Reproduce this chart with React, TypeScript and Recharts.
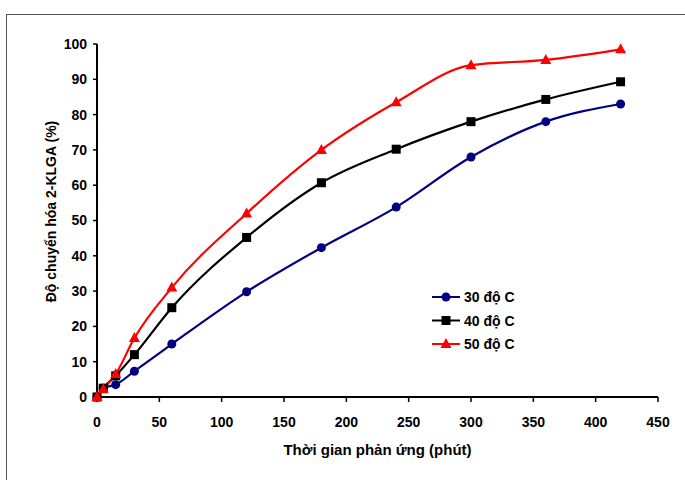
import React from 'react';
import { LineChart, Line, XAxis, YAxis } from 'recharts';

const minutes = [0, 5, 15, 30, 60, 120, 180, 240, 300, 360, 420];
const series30 = [0, 2.5, 3.5, 7.3, 15, 29.8, 42.3, 53.8, 68, 78, 83];
const series40 = [0, 2.5, 6, 12, 25.3, 45.2, 60.7, 70.2, 78, 84.3, 89.3];
const series50 = [0, 2.2, 6.5, 16.7, 31, 52, 70, 83.5, 94, 95.5, 98.5];
const xTicks = [0, 50, 100, 150, 200, 250, 300, 350, 400, 450];
const yTicks = [0, 10, 20, 30, 40, 50, 60, 70, 80, 90, 100];

const data = minutes.map((m, i) => ({
  t: m,
  c30: series30[i],
  c40: series40[i],
  c50: series50[i],
}));

const FONT = '"Liberation Sans", Arial, sans-serif';

const legendItems = [
  { label: '30 độ C', color: '#000080', shape: 'circle' },
  { label: '40 độ C', color: '#000000', shape: 'square' },
  { label: '50 độ C', color: '#ff0000', shape: 'triangle' },
];

function Marker({ shape, cx, cy, color }: { shape: string; cx: number; cy: number; color: string }) {
  if (shape === 'circle') return <circle cx={cx} cy={cy} r={4.5} fill={color} />;
  if (shape === 'square') return <rect x={cx - 4.5} y={cy - 4.5} width={9} height={9} fill={color} />;
  return <polygon points={`${cx},${cy - 6} ${cx + 5.5},${cy + 4} ${cx - 5.5},${cy + 4}`} fill={color} />;
}

const makeDot = (shape: string, color: string) => (props: any) => {
  const { cx, cy, index } = props;
  if (cx == null || cy == null) return <g key={index} />;
  return <Marker key={index} shape={shape} cx={cx} cy={cy} color={color} />;
};

// y title sits a bit above the plot's middle, as in the original
const YTitle = (props: any) => {
  const vb = props.viewBox || { x: 57, y: 44, width: 40, height: 353 };
  const x = vb.x - 6;
  const y = vb.y + vb.height / 2 - 9;
  return (
    <text
      x={x}
      y={y}
      transform={`rotate(-90, ${x}, ${y})`}
      textAnchor="middle"
      dominantBaseline="central"
      fontFamily={FONT}
      fontWeight="bold"
      fontSize={14}
      fill="#000"
    >
      Độ chuyển hóa 2-KLGA (%)
    </text>
  );
};

// legend drawn outside the chart so it does not eat plot space
function LegendBox() {
  return (
    <svg width={120} height={75} style={{ position: 'absolute', left: 430, top: 286 }}>
      {legendItems.map((it, i) => {
        const y = 11 + i * 23.5;
        return (
          <g key={it.label}>
            <line x1={2} y1={y} x2={30} y2={y} stroke={it.color} strokeWidth={2} />
            <Marker shape={it.shape} cx={16} cy={y} color={it.color} />
            <text x={34} y={y + 5} fontFamily={FONT} fontWeight="bold" fontSize={14} fill="#000">
              {it.label}
            </text>
          </g>
        );
      })}
    </svg>
  );
}

export default function App() {
  return (
    <div style={{ position: 'absolute', left: 0, top: 0, width: 685, height: 480, overflow: 'hidden', background: '#fff' }}>
      <div style={{ position: 'absolute', left: 6, top: 14, width: 800, height: 600, border: '1px solid #555' }} />
      <LineChart
        width={685}
        height={480}
        data={data}
        margin={{ top: 44, right: 27, bottom: 53, left: 57 }}
        style={{ position: 'absolute', left: 0, top: 0 }}
      >
        <XAxis
          dataKey="t"
          type="number"
          domain={[0, 450]}
          ticks={xTicks}
          interval={0}
          height={30}
          tickSize={5}
          tickMargin={15}
          axisLine={{ stroke: '#000', strokeWidth: 2 }}
          tickLine={{ stroke: '#000', strokeWidth: 1.5 }}
          tick={{ fill: '#000', fontFamily: FONT, fontWeight: 'bold', fontSize: 14 }}
          label={{
            value: 'Thời gian phản ứng (phút)',
            position: 'insideBottom',
            offset: -28,
            fill: '#000',
            fontFamily: FONT,
            fontWeight: 'bold',
            fontSize: 15,
          }}
        />
        <YAxis
          type="number"
          domain={[0, 100]}
          ticks={yTicks}
          interval={0}
          width={40}
          tickSize={4}
          tickMargin={6}
          axisLine={{ stroke: '#000', strokeWidth: 2 }}
          tickLine={{ stroke: '#000', strokeWidth: 1.5 }}
          tick={{ fill: '#000', fontFamily: FONT, fontWeight: 'bold', fontSize: 14 }}
          label={{ content: YTitle }}
        />
        <Line
          type="monotone"
          dataKey="c30"
          stroke="#000080"
          strokeWidth={2.2}
          dot={makeDot('circle', '#000080')}
          activeDot={false}
          isAnimationActive={false}
        />
        <Line
          type="monotone"
          dataKey="c40"
          stroke="#000000"
          strokeWidth={2.2}
          dot={makeDot('square', '#000000')}
          activeDot={false}
          isAnimationActive={false}
        />
        <Line
          type="monotone"
          dataKey="c50"
          stroke="#ff0000"
          strokeWidth={2.2}
          dot={makeDot('triangle', '#ff0000')}
          activeDot={false}
          isAnimationActive={false}
        />
      </LineChart>
      <LegendBox />
    </div>
  );
}
